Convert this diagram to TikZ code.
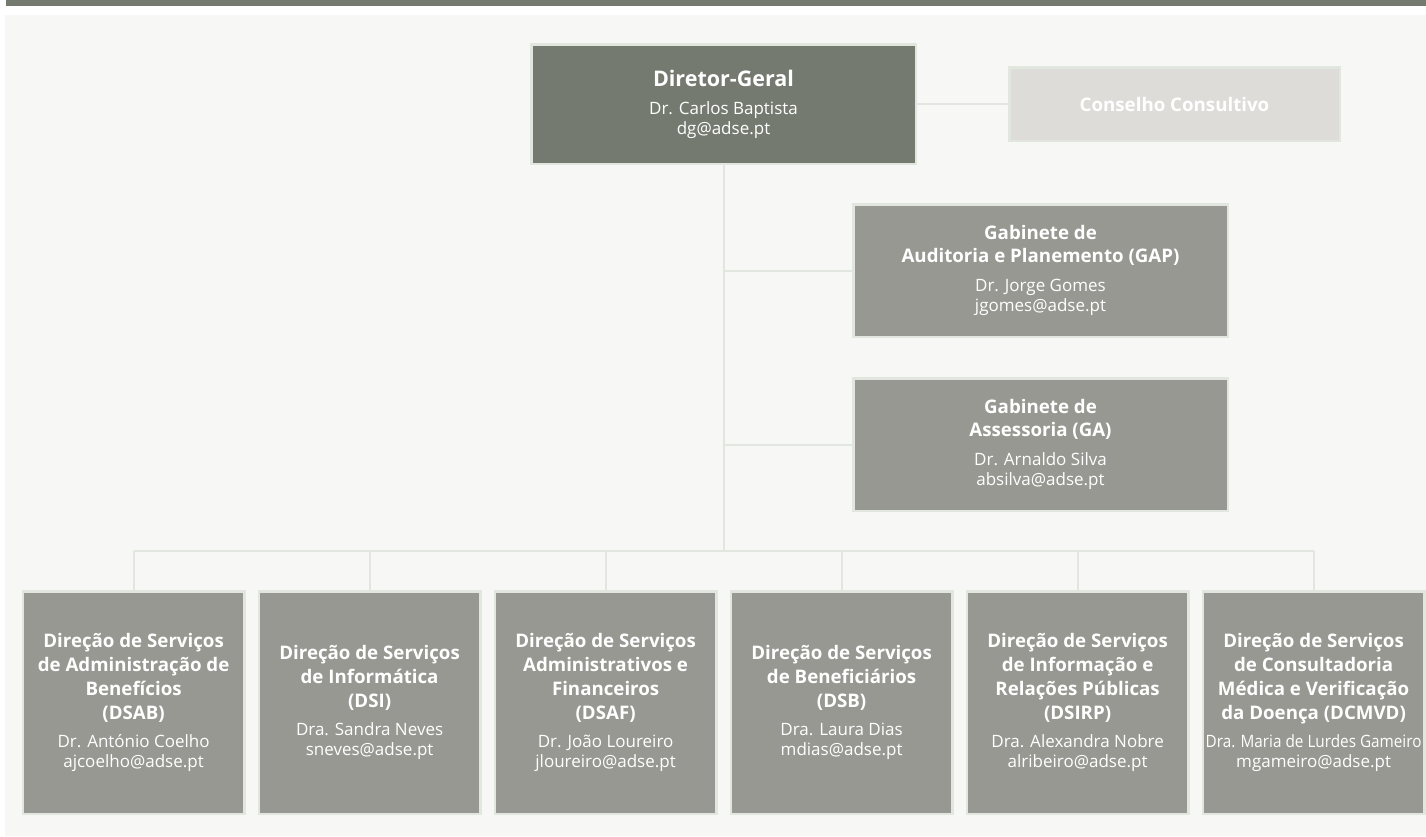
\documentclass[tikz,border=0pt]{standalone}
\usepackage{fontspec}
\setmainfont{Open Sans}
\usepackage{graphicx}
\definecolor{darkc}{HTML}{747A6F}
\definecolor{boxc}{HTML}{979891}
\definecolor{consc}{HTML}{DEDCD8}
\definecolor{bordc}{HTML}{E1E6DF}
\definecolor{panelc}{HTML}{F7F7F5}
\definecolor{linec}{HTML}{E1E6DF}
\newcommand\boxtitle{\fontsize{18.7}{24}\selectfont\bfseries}
\newcommand\dgtitle{\fontsize{21.5}{24}\selectfont\bfseries}
\begin{document}
\begin{tikzpicture}[x=1pt,y=-1pt,
  orgbox/.style={draw=bordc, line width=2.5pt, fill=boxc, text=white, align=center,
    inner sep=0pt, outer sep=0pt, font=\fontsize{17}{24}\selectfont},
  depbox/.style={orgbox, minimum width=221.5pt, minimum height=222.5pt},
  gabbox/.style={orgbox, minimum width=374.5pt, minimum height=132.5pt},
  link/.style={draw=linec, line width=2pt}]
\useasboundingbox (0,0) rectangle (1426,836);
\fill[white] (0,0) rectangle (1426,836);
\fill[darkc] (6,0) rectangle (1426,6);
\fill[panelc] (5,15) rectangle (1426,836);

\node[orgbox, fill=darkc, minimum width=384.5pt, minimum height=119.5pt] (dg) at (723.5,104)
  {{\dgtitle Diretor-Geral}\\[4pt] Dr. Carlos Baptista\\[-4pt] dg@adse.pt};
\node[orgbox, fill=consc, minimum width=330.5pt, minimum height=73.5pt] (cc) at (1174.5,104)
  {{\boxtitle Conselho Consultivo}};
\node[gabbox] (gap) at (1040.5,270.5)
  {{\boxtitle Gabinete de}\\[-1pt]{\boxtitle Auditoria e Planemento (GAP)}\\[5pt] Dr. Jorge Gomes\\[-4pt] jgomes@adse.pt};
\node[gabbox] (ga) at (1040.5,444.5)
  {{\boxtitle Gabinete de}\\[-1pt]{\boxtitle Assessoria (GA)}\\[5pt] Dr. Arnaldo Silva\\[-4pt] absilva@adse.pt};

\node[depbox] (b1) at (133.6,702.5)
  {{\boxtitle Direção de Serviços}\\{\boxtitle de Administração de}\\{\boxtitle Benefícios}\\{\boxtitle (DSAB)}\\[4pt] Dr. António Coelho\\[-4pt] ajcoelho@adse.pt};
\node[depbox] (b2) at (369.6,702.5)
  {{\boxtitle Direção de Serviços}\\{\boxtitle de Informática}\\{\boxtitle (DSI)}\\[4pt] Dra. Sandra Neves\\[-4pt] sneves@adse.pt};
\node[depbox] (b3) at (605.6,702.5)
  {{\boxtitle Direção de Serviços}\\{\boxtitle Administrativos e}\\{\boxtitle Financeiros}\\{\boxtitle (DSAF)}\\[4pt] Dr. João Loureiro\\[-4pt] jloureiro@adse.pt};
\node[depbox] (b4) at (841.6,702.5)
  {{\boxtitle Direção de Serviços}\\{\boxtitle de Beneficiários}\\{\boxtitle (DSB)}\\[4pt] Dra. Laura Dias\\[-4pt] mdias@adse.pt};
\node[depbox] (b5) at (1077.6,702.5)
  {{\boxtitle Direção de Serviços}\\{\boxtitle de Informação e}\\{\boxtitle Relações Públicas}\\{\boxtitle (DSIRP)}\\[4pt] Dra. Alexandra Nobre\\[-4pt] alribeiro@adse.pt};
\node[depbox] (b6) at (1313.6,702.5)
  {{\boxtitle Direção de Serviços}\\{\boxtitle de Consultadoria}\\{\boxtitle Médica e Verificação}\\{\boxtitle da Doença (DCMVD)}\\[4pt] \scalebox{0.9}[1]{Dra. Maria de Lurdes Gameiro}\\[-4pt] mgameiro@adse.pt};

\coordinate (bus) at (723.5,551);
\draw[link] (dg.east) -- (cc.west);
\draw[link] (dg.south) -- (bus);
\draw[link] (gap.west -| dg.south) -- (gap.west);
\draw[link] (ga.west -| dg.south) -- (ga.west);
\draw[link] (b1.north |- bus) -- (b6.north |- bus);
\foreach \b in {b1,b2,b3,b4,b5,b6}
  \draw[link] (\b.north |- bus) -- (\b.north);
\end{tikzpicture}
\end{document}
